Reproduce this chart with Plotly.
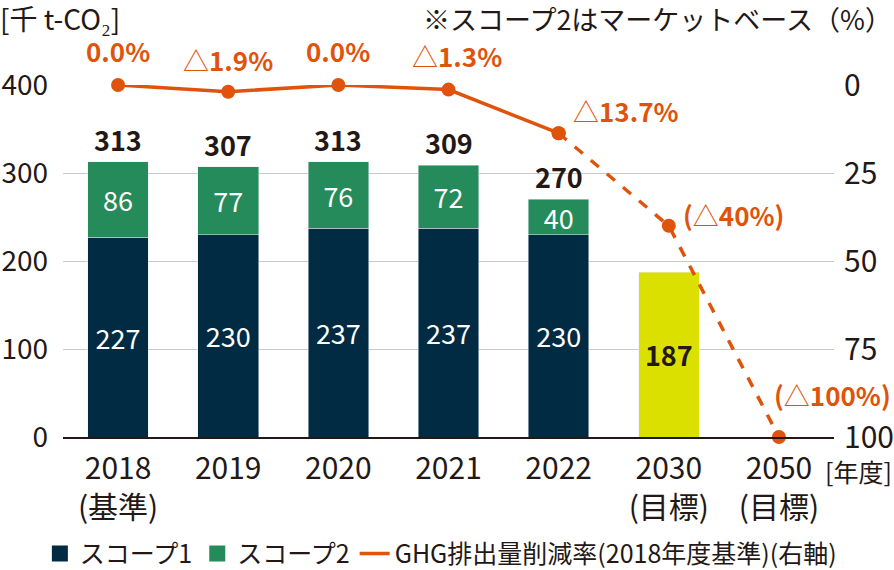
import plotly.graph_objects as go

categories = ["2018<br>(基準)", "2019", "2020", "2021", "2022", "2030<br>(目標)", "2050<br>(目標)"]
scope1 = [227, 230, 237, 237, 230, None, None]
scope2 = [86, 77, 76, 72, 40, None, None]
totals = [313, 307, 313, 309, 270, None, None]
target = [None, None, None, None, None, 187, None]
reduction = [0.0, 1.9, 0.0, 1.3, 13.7, 40, 100]
reduction_labels = ["<b>0.0%</b>", "△<b>1.9%</b>", "<b>0.0%</b>", "△<b>1.3%</b>",
                    "△<b>13.7%</b>", "<b>(</b>△<b>40%)</b>", "<b>(</b>△<b>100%)</b>"]

NAVY = "#002b42"
GREEN = "#268b5a"
YELLOW = "#dce000"
ORANGE = "#e0530a"
TEXT = "#231815"
FONT = "Noto Sans CJK JP"
TICK = 30
LABEL = 27

fig = go.Figure()

bar_common = dict(textposition="inside", insidetextanchor="middle", textangle=0,
                  constraintext="none", hoverinfo="skip", showlegend=False)
fig.add_trace(go.Bar(x=categories, y=scope1, marker_color=NAVY,
                     text=[str(v) if v is not None else "" for v in scope1],
                     textfont=dict(color="white", size=LABEL, family=FONT), **bar_common))
fig.add_trace(go.Bar(x=categories, y=scope2, marker_color=GREEN,
                     text=[str(v) if v is not None else "" for v in scope2],
                     textfont=dict(color="white", size=LABEL, family=FONT), **bar_common))
fig.add_trace(go.Bar(x=categories, y=target, marker_color=YELLOW,
                     text=["<b>%d</b>" % v if v is not None else "" for v in target],
                     textfont=dict(color=TEXT, size=LABEL, family=FONT), **bar_common))

# reduction line: solid for actuals, dashed for targets
n_actual = 5
fig.add_trace(go.Scatter(x=categories[n_actual - 1:], y=reduction[n_actual - 1:], yaxis="y2",
                         mode="lines+markers", line=dict(color=ORANGE, width=3.5, dash="dash"),
                         marker=dict(size=14, color=ORANGE), showlegend=False, cliponaxis=False))
fig.add_trace(go.Scatter(x=categories[:n_actual], y=reduction[:n_actual], yaxis="y2",
                         mode="lines+markers", line=dict(color=ORANGE, width=3.5),
                         marker=dict(size=14, color=ORANGE), showlegend=False, cliponaxis=False))

# legend entries
fig.add_trace(go.Scatter(x=[None], y=[None], mode="markers", name="スコープ1",
                         marker=dict(symbol="square", size=22, color=NAVY)))
fig.add_trace(go.Scatter(x=[None], y=[None], mode="markers", name="スコープ2",
                         marker=dict(symbol="square", size=22, color=GREEN)))
fig.add_trace(go.Scatter(x=[None], y=[None], mode="lines", name="GHG排出量削減率(2018年度基準)(右軸)",
                         line=dict(color=ORANGE, width=3.5)))

# total labels above bars (category index used for annotation x)
for i, t in enumerate(totals):
    if t is not None:
        fig.add_annotation(x=i, y=t, xref="x", yref="y", text="<b>%d</b>" % t,
                           showarrow=False, yanchor="bottom", yshift=1,
                           font=dict(size=LABEL, color=TEXT, family=FONT))

# reduction labels
offsets = [(0, 14, "center", "bottom"), (0, 12, "center", "bottom"), (0, 14, "center", "bottom"),
           (8, 14, "center", "bottom"), (12, 2, "left", "bottom"), (12, 11, "left", "middle"),
           (-7, 22, "left", "bottom")]
for i, (r, lab, (dx, dy, xa, ya)) in enumerate(zip(reduction, reduction_labels, offsets)):
    fig.add_annotation(x=i, y=r, xref="x", yref="y2", text=lab, showarrow=False,
                       xanchor=xa, yanchor=ya, xshift=dx, yshift=dy,
                       font=dict(size=26, color=ORANGE, family=FONT))

# header texts
fig.add_annotation(xref="paper", yref="paper", x=-0.084, y=1.19, xanchor="left", yanchor="middle",
                   text="[千 t-CO₂]", showarrow=False, font=dict(size=28, color=TEXT, family=FONT))
fig.add_annotation(xref="paper", yref="paper", x=1.078, y=1.19, xanchor="right", yanchor="middle",
                   text="※スコープ2はマーケットベース（%）", showarrow=False,
                   font=dict(size=27, color=TEXT, family=FONT))
fig.add_annotation(xref="paper", yref="paper", x=1.078, y=-0.097, xanchor="right", yanchor="middle",
                   text="[年度]", showarrow=False, font=dict(size=25, color=TEXT, family=FONT))

fig.update_layout(
    width=894, height=570,
    margin=dict(l=63, r=60, t=85, b=133, autoexpand=False),
    paper_bgcolor="white", plot_bgcolor="white",
    barmode="stack", bargap=0.45,
    font=dict(family=FONT, size=24, color=TEXT),
    xaxis=dict(type="category", categoryorder="array", categoryarray=categories,
               range=[-0.5, len(categories) - 0.5],
               showline=True, linecolor=TEXT, linewidth=2, ticks="", showgrid=False,
               tickfont=dict(size=TICK, color=TEXT), ticklabelstandoff=4),
    yaxis=dict(range=[0, 400], dtick=100, showgrid=True, gridcolor="#c9c9c9", gridwidth=1,
               zeroline=False, ticks="", tickfont=dict(size=28, color=TEXT), ticklabelstandoff=14),
    yaxis2=dict(range=[100, 0], dtick=25, overlaying="y", side="right", showgrid=False,
                zeroline=False, ticks="", tickfont=dict(size=TICK, color=TEXT), ticklabelstandoff=9),
    legend=dict(orientation="h", x=-0.03, xanchor="left", y=-0.332, yanchor="middle",
                font=dict(size=25, color=TEXT), itemsizing="trace", traceorder="normal",
                itemwidth=30),
    showlegend=True,
)

fig.write_html("out.html", config={"displayModeBar": False},
               post_script="document.body.style.margin='0';document.body.style.overflow='hidden';")
